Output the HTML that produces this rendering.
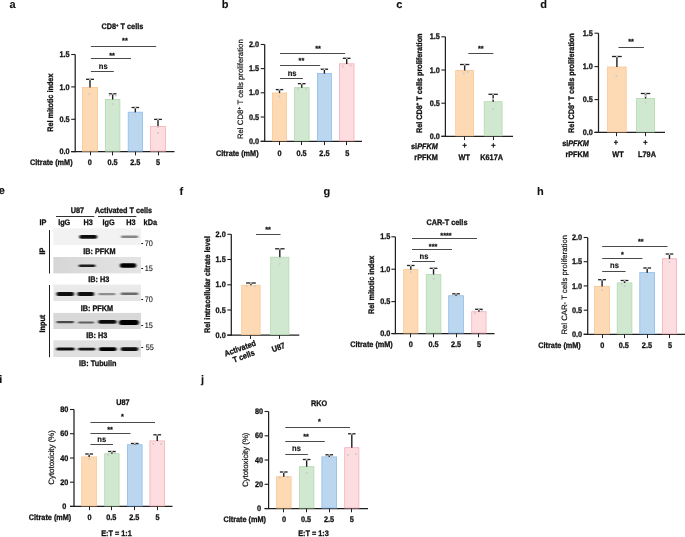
<!DOCTYPE html>
<html><head><meta charset="utf-8"><style>
html,body{margin:0;padding:0;background:#fff;}
svg{display:block;will-change:transform;}
text{text-rendering:geometricPrecision;font-family:"Liberation Sans", sans-serif;}
</style></head><body>
<svg width="685" height="537" viewBox="0 0 685 537">
<defs><filter id="bl" x="-20%" y="-150%" width="140%" height="400%"><feGaussianBlur stdDeviation="1.0 0.6"/></filter>
<linearGradient id="g2" x1="0" x2="1" y1="0" y2="0"><stop offset="0" stop-color="#d6d6d6"/><stop offset="0.5" stop-color="#dedede"/><stop offset="1" stop-color="#e4e4e4"/></linearGradient>
<linearGradient id="g3" x1="0" x2="0" y1="0" y2="1"><stop offset="0" stop-color="#ececec"/><stop offset="1" stop-color="#e2e2e2"/></linearGradient>
</defs>
<rect width="685" height="537" fill="#fff"/>
<text transform="translate(9.40 7.80) scale(1.0000 1)" text-anchor="start" font-size="11.00" font-weight="bold" fill="#111"  stroke="#111" stroke-width="0.1">a</text>
<text transform="translate(122.40 29.20) scale(0.9091 1)" text-anchor="middle" font-size="8.03" font-weight="bold" fill="#111"  stroke="#111" stroke-width="0.3">CD8<tspan font-size="4.6" dy="-2.6">+</tspan><tspan dy="2.6"> </tspan>T cells</text>
<line x1="75.20" y1="54.50" x2="75.20" y2="152.20" stroke="#1f1f1f" stroke-width="1.25"/>
<line x1="71.20" y1="151.60" x2="75.20" y2="151.60" stroke="#1f1f1f" stroke-width="1.1"/>
<text transform="translate(69.60 154.20) scale(0.9091 1)" text-anchor="end" font-size="8.03" font-weight="bold" fill="#111"  stroke="#111" stroke-width="0.3">0.0</text>
<line x1="71.20" y1="119.30" x2="75.20" y2="119.30" stroke="#1f1f1f" stroke-width="1.1"/>
<text transform="translate(69.60 121.90) scale(0.9091 1)" text-anchor="end" font-size="8.03" font-weight="bold" fill="#111"  stroke="#111" stroke-width="0.3">0.5</text>
<line x1="71.20" y1="86.90" x2="75.20" y2="86.90" stroke="#1f1f1f" stroke-width="1.1"/>
<text transform="translate(69.60 89.50) scale(0.9091 1)" text-anchor="end" font-size="8.03" font-weight="bold" fill="#111"  stroke="#111" stroke-width="0.3">1.0</text>
<line x1="71.20" y1="54.50" x2="75.20" y2="54.50" stroke="#1f1f1f" stroke-width="1.1"/>
<text transform="translate(69.60 57.10) scale(0.9091 1)" text-anchor="end" font-size="8.03" font-weight="bold" fill="#111"  stroke="#111" stroke-width="0.3">1.5</text>
<line x1="71.20" y1="151.60" x2="174.50" y2="151.60" stroke="#1f1f1f" stroke-width="1.25"/>
<rect x="82.40" y="87.40" width="15.20" height="63.70" fill="#FDDAB3" stroke="#F9C795" stroke-width="0.8" />
<line x1="90.00" y1="79.30" x2="90.00" y2="87.50" stroke="#1f1f1f" stroke-width="1.4"/>
<line x1="86.00" y1="79.30" x2="94.00" y2="79.30" stroke="#1f1f1f" stroke-width="1.3"/>
<line x1="90.50" y1="151.60" x2="90.50" y2="155.40" stroke="#1f1f1f" stroke-width="1.0"/>
<circle cx="90.00" cy="79.30" r="0.9" fill="#d4d4d4"/>
<circle cx="89.50" cy="94.00" r="1.0" fill="#cbcbcb"/>
<rect x="105.40" y="99.40" width="14.50" height="51.70" fill="#D1E8D0" stroke="#B3DAB0" stroke-width="0.8" />
<line x1="112.65" y1="93.80" x2="112.65" y2="99.50" stroke="#1f1f1f" stroke-width="1.4"/>
<line x1="108.83" y1="93.80" x2="116.48" y2="93.80" stroke="#1f1f1f" stroke-width="1.3"/>
<line x1="112.50" y1="151.60" x2="112.50" y2="155.40" stroke="#1f1f1f" stroke-width="1.0"/>
<circle cx="112.65" cy="93.80" r="0.9" fill="#d4d4d4"/>
<circle cx="109.65" cy="95.50" r="1.0" fill="#cbcbcb"/>
<circle cx="115.65" cy="95.50" r="1.0" fill="#cbcbcb"/>
<circle cx="112.65" cy="104.00" r="1.0" fill="#cbcbcb"/>
<rect x="128.20" y="112.20" width="14.30" height="38.90" fill="#BBD7F0" stroke="#8FBBEC" stroke-width="0.8" />
<line x1="135.35" y1="107.50" x2="135.35" y2="112.30" stroke="#1f1f1f" stroke-width="1.4"/>
<line x1="131.57" y1="107.50" x2="139.12" y2="107.50" stroke="#1f1f1f" stroke-width="1.3"/>
<line x1="135.50" y1="151.60" x2="135.50" y2="155.40" stroke="#1f1f1f" stroke-width="1.0"/>
<circle cx="135.35" cy="107.50" r="0.9" fill="#d4d4d4"/>
<circle cx="135.35" cy="115.00" r="1.0" fill="#cbcbcb"/>
<rect x="150.60" y="126.50" width="14.80" height="24.60" fill="#FDDDE0" stroke="#F6AEB6" stroke-width="0.8" />
<line x1="158.00" y1="119.40" x2="158.00" y2="126.60" stroke="#1f1f1f" stroke-width="1.4"/>
<line x1="154.10" y1="119.40" x2="161.90" y2="119.40" stroke="#1f1f1f" stroke-width="1.3"/>
<line x1="158.50" y1="151.60" x2="158.50" y2="155.40" stroke="#1f1f1f" stroke-width="1.0"/>
<circle cx="158.00" cy="119.40" r="0.9" fill="#d4d4d4"/>
<circle cx="158.00" cy="127.00" r="1.0" fill="#cbcbcb"/>
<circle cx="158.00" cy="133.00" r="1.0" fill="#cbcbcb"/>
<line x1="90.90" y1="46.50" x2="156.20" y2="46.50" stroke="#4a4a4a" stroke-width="1.0"/>
<text transform="translate(124.90 43.10) scale(1.0000 1)" text-anchor="middle" font-size="7.30" font-weight="bold" fill="#111"  stroke="#111" stroke-width="0.25">**</text>
<line x1="90.90" y1="58.50" x2="131.00" y2="58.50" stroke="#4a4a4a" stroke-width="1.0"/>
<text transform="translate(112.10 57.50) scale(1.0000 1)" text-anchor="middle" font-size="7.30" font-weight="bold" fill="#111"  stroke="#111" stroke-width="0.25">**</text>
<line x1="90.90" y1="71.50" x2="113.80" y2="71.50" stroke="#4a4a4a" stroke-width="1.0"/>
<text transform="translate(103.30 68.60) scale(0.9091 1)" text-anchor="middle" font-size="8.36" font-weight="bold" fill="#111"  stroke="#111" stroke-width="0.15">ns</text>
<text transform="translate(89.80 164.80) scale(0.9091 1)" text-anchor="middle" font-size="8.03" font-weight="bold" fill="#111"  stroke="#111" stroke-width="0.3">0</text>
<text transform="translate(112.60 164.80) scale(0.9091 1)" text-anchor="middle" font-size="8.03" font-weight="bold" fill="#111"  stroke="#111" stroke-width="0.3">0.5</text>
<text transform="translate(135.30 164.80) scale(0.9091 1)" text-anchor="middle" font-size="8.03" font-weight="bold" fill="#111"  stroke="#111" stroke-width="0.3">2.5</text>
<text transform="translate(158.00 164.80) scale(0.9091 1)" text-anchor="middle" font-size="8.03" font-weight="bold" fill="#111"  stroke="#111" stroke-width="0.3">5</text>
<text transform="translate(72.60 164.80) scale(0.9091 1)" text-anchor="end" font-size="8.03" font-weight="bold" fill="#111"  stroke="#111" stroke-width="0.3">Citrate (mM)</text>
<text transform="translate(52.60 102.70) rotate(-90) scale(0.9091 1)" text-anchor="middle" font-size="8.03" font-weight="bold" fill="#111"  stroke="#111" stroke-width="0.3">Rel mitotic index</text>
<text transform="translate(221.80 7.80) scale(1.0000 1)" text-anchor="start" font-size="11.00" font-weight="bold" fill="#111"  stroke="#111" stroke-width="0.1">b</text>
<line x1="264.70" y1="44.50" x2="264.70" y2="141.90" stroke="#1f1f1f" stroke-width="1.25"/>
<line x1="260.70" y1="141.30" x2="264.70" y2="141.30" stroke="#1f1f1f" stroke-width="1.1"/>
<text transform="translate(259.10 143.90) scale(0.9091 1)" text-anchor="end" font-size="8.03" font-weight="bold" fill="#111"  stroke="#111" stroke-width="0.3">0.0</text>
<line x1="260.70" y1="117.00" x2="264.70" y2="117.00" stroke="#1f1f1f" stroke-width="1.1"/>
<text transform="translate(259.10 119.60) scale(0.9091 1)" text-anchor="end" font-size="8.03" font-weight="bold" fill="#111"  stroke="#111" stroke-width="0.3">0.5</text>
<line x1="260.70" y1="92.80" x2="264.70" y2="92.80" stroke="#1f1f1f" stroke-width="1.1"/>
<text transform="translate(259.10 95.40) scale(0.9091 1)" text-anchor="end" font-size="8.03" font-weight="bold" fill="#111"  stroke="#111" stroke-width="0.3">1.0</text>
<line x1="260.70" y1="68.60" x2="264.70" y2="68.60" stroke="#1f1f1f" stroke-width="1.1"/>
<text transform="translate(259.10 71.20) scale(0.9091 1)" text-anchor="end" font-size="8.03" font-weight="bold" fill="#111"  stroke="#111" stroke-width="0.3">1.5</text>
<line x1="260.70" y1="44.50" x2="264.70" y2="44.50" stroke="#1f1f1f" stroke-width="1.1"/>
<text transform="translate(259.10 47.10) scale(0.9091 1)" text-anchor="end" font-size="8.03" font-weight="bold" fill="#111"  stroke="#111" stroke-width="0.3">2.0</text>
<line x1="260.70" y1="141.30" x2="362.00" y2="141.30" stroke="#1f1f1f" stroke-width="1.25"/>
<rect x="272.40" y="93.00" width="14.20" height="47.80" fill="#FDDAB3" stroke="#F9C795" stroke-width="0.8" />
<line x1="279.50" y1="89.60" x2="279.50" y2="93.10" stroke="#1f1f1f" stroke-width="1.4"/>
<line x1="275.75" y1="89.60" x2="283.25" y2="89.60" stroke="#1f1f1f" stroke-width="1.3"/>
<line x1="279.50" y1="141.30" x2="279.50" y2="145.10" stroke="#1f1f1f" stroke-width="1.0"/>
<circle cx="279.50" cy="89.60" r="0.9" fill="#d4d4d4"/>
<circle cx="279.50" cy="96.50" r="1.0" fill="#cbcbcb"/>
<rect x="294.40" y="87.60" width="14.70" height="53.20" fill="#D1E8D0" stroke="#B3DAB0" stroke-width="0.8" />
<line x1="301.75" y1="83.70" x2="301.75" y2="87.70" stroke="#1f1f1f" stroke-width="1.4"/>
<line x1="297.88" y1="83.70" x2="305.62" y2="83.70" stroke="#1f1f1f" stroke-width="1.3"/>
<line x1="301.50" y1="141.30" x2="301.50" y2="145.10" stroke="#1f1f1f" stroke-width="1.0"/>
<circle cx="301.75" cy="83.70" r="0.9" fill="#d4d4d4"/>
<circle cx="297.75" cy="89.00" r="1.0" fill="#cbcbcb"/>
<circle cx="305.75" cy="89.00" r="1.0" fill="#cbcbcb"/>
<rect x="317.40" y="73.50" width="14.00" height="67.30" fill="#BBD7F0" stroke="#8FBBEC" stroke-width="0.8" />
<line x1="324.40" y1="69.20" x2="324.40" y2="73.60" stroke="#1f1f1f" stroke-width="1.4"/>
<line x1="320.70" y1="69.20" x2="328.10" y2="69.20" stroke="#1f1f1f" stroke-width="1.3"/>
<line x1="324.50" y1="141.30" x2="324.50" y2="145.10" stroke="#1f1f1f" stroke-width="1.0"/>
<circle cx="324.40" cy="69.20" r="0.9" fill="#d4d4d4"/>
<circle cx="324.40" cy="76.00" r="1.0" fill="#cbcbcb"/>
<rect x="339.40" y="63.80" width="14.60" height="77.00" fill="#FDDDE0" stroke="#F6AEB6" stroke-width="0.8" />
<line x1="346.70" y1="58.30" x2="346.70" y2="63.90" stroke="#1f1f1f" stroke-width="1.4"/>
<line x1="342.85" y1="58.30" x2="350.55" y2="58.30" stroke="#1f1f1f" stroke-width="1.3"/>
<line x1="346.50" y1="141.30" x2="346.50" y2="145.10" stroke="#1f1f1f" stroke-width="1.0"/>
<circle cx="346.70" cy="58.30" r="0.9" fill="#d4d4d4"/>
<circle cx="342.70" cy="66.50" r="1.0" fill="#cbcbcb"/>
<circle cx="350.70" cy="65.50" r="1.0" fill="#cbcbcb"/>
<line x1="280.00" y1="53.50" x2="345.10" y2="53.50" stroke="#4a4a4a" stroke-width="1.0"/>
<text transform="translate(318.10 50.60) scale(1.0000 1)" text-anchor="middle" font-size="7.30" font-weight="bold" fill="#111"  stroke="#111" stroke-width="0.25">**</text>
<line x1="280.00" y1="65.50" x2="320.20" y2="65.50" stroke="#4a4a4a" stroke-width="1.0"/>
<text transform="translate(301.40 63.20) scale(1.0000 1)" text-anchor="middle" font-size="7.30" font-weight="bold" fill="#111"  stroke="#111" stroke-width="0.25">**</text>
<line x1="280.00" y1="78.50" x2="302.90" y2="78.50" stroke="#4a4a4a" stroke-width="1.0"/>
<text transform="translate(292.10 75.90) scale(0.9091 1)" text-anchor="middle" font-size="8.36" font-weight="bold" fill="#111"  stroke="#111" stroke-width="0.15">ns</text>
<text transform="translate(279.50 155.50) scale(0.9091 1)" text-anchor="middle" font-size="8.03" font-weight="bold" fill="#111"  stroke="#111" stroke-width="0.3">0</text>
<text transform="translate(301.50 155.50) scale(0.9091 1)" text-anchor="middle" font-size="8.03" font-weight="bold" fill="#111"  stroke="#111" stroke-width="0.3">0.5</text>
<text transform="translate(324.40 155.50) scale(0.9091 1)" text-anchor="middle" font-size="8.03" font-weight="bold" fill="#111"  stroke="#111" stroke-width="0.3">2.5</text>
<text transform="translate(347.30 155.50) scale(0.9091 1)" text-anchor="middle" font-size="8.03" font-weight="bold" fill="#111"  stroke="#111" stroke-width="0.3">5</text>
<text transform="translate(258.60 155.50) scale(0.9091 1)" text-anchor="end" font-size="8.03" font-weight="bold" fill="#111"  stroke="#111" stroke-width="0.3">Citrate (mM)</text>
<text transform="translate(243.40 89.20) rotate(-90) scale(1.0000 1)" text-anchor="middle" font-size="7.80" font-weight="normal" fill="#111"  stroke="#111" stroke-width="0.2">Rel CD8<tspan font-size="5.2" dy="-2.8">+</tspan><tspan dy="2.8"> </tspan>T cells proliferation</text>
<text transform="translate(396.20 7.80) scale(1.0000 1)" text-anchor="start" font-size="11.00" font-weight="bold" fill="#111"  stroke="#111" stroke-width="0.1">c</text>
<line x1="445.40" y1="36.80" x2="445.40" y2="136.90" stroke="#1f1f1f" stroke-width="1.25"/>
<line x1="441.40" y1="136.30" x2="445.40" y2="136.30" stroke="#1f1f1f" stroke-width="1.1"/>
<text transform="translate(439.80 138.90) scale(0.9091 1)" text-anchor="end" font-size="8.03" font-weight="bold" fill="#111"  stroke="#111" stroke-width="0.3">0.0</text>
<line x1="441.40" y1="103.20" x2="445.40" y2="103.20" stroke="#1f1f1f" stroke-width="1.1"/>
<text transform="translate(439.80 105.80) scale(0.9091 1)" text-anchor="end" font-size="8.03" font-weight="bold" fill="#111"  stroke="#111" stroke-width="0.3">0.5</text>
<line x1="441.40" y1="70.00" x2="445.40" y2="70.00" stroke="#1f1f1f" stroke-width="1.1"/>
<text transform="translate(439.80 72.60) scale(0.9091 1)" text-anchor="end" font-size="8.03" font-weight="bold" fill="#111"  stroke="#111" stroke-width="0.3">1.0</text>
<line x1="441.40" y1="36.80" x2="445.40" y2="36.80" stroke="#1f1f1f" stroke-width="1.1"/>
<text transform="translate(439.80 39.40) scale(0.9091 1)" text-anchor="end" font-size="8.03" font-weight="bold" fill="#111"  stroke="#111" stroke-width="0.3">1.5</text>
<line x1="441.40" y1="136.30" x2="513.00" y2="136.30" stroke="#1f1f1f" stroke-width="1.25"/>
<rect x="455.70" y="70.40" width="17.90" height="65.40" fill="#FDDAB3" stroke="#F9C795" stroke-width="0.8" />
<line x1="464.65" y1="64.50" x2="464.65" y2="70.50" stroke="#1f1f1f" stroke-width="1.4"/>
<line x1="459.97" y1="64.50" x2="469.32" y2="64.50" stroke="#1f1f1f" stroke-width="1.3"/>
<line x1="464.50" y1="136.30" x2="464.50" y2="140.10" stroke="#1f1f1f" stroke-width="1.0"/>
<circle cx="464.65" cy="64.50" r="0.9" fill="#d4d4d4"/>
<circle cx="463.65" cy="73.50" r="1.0" fill="#cbcbcb"/>
<circle cx="467.65" cy="72.00" r="1.0" fill="#cbcbcb"/>
<rect x="484.20" y="101.70" width="17.90" height="34.10" fill="#D1E8D0" stroke="#B3DAB0" stroke-width="0.8" />
<line x1="493.15" y1="94.30" x2="493.15" y2="101.80" stroke="#1f1f1f" stroke-width="1.4"/>
<line x1="488.47" y1="94.30" x2="497.82" y2="94.30" stroke="#1f1f1f" stroke-width="1.3"/>
<line x1="493.50" y1="136.30" x2="493.50" y2="140.10" stroke="#1f1f1f" stroke-width="1.0"/>
<circle cx="493.15" cy="94.30" r="0.9" fill="#d4d4d4"/>
<circle cx="493.15" cy="99.00" r="1.0" fill="#cbcbcb"/>
<circle cx="493.15" cy="109.00" r="1.0" fill="#cbcbcb"/>
<line x1="468.30" y1="53.50" x2="493.30" y2="53.50" stroke="#4a4a4a" stroke-width="1.0"/>
<text transform="translate(480.80 50.50) scale(1.0000 1)" text-anchor="middle" font-size="7.30" font-weight="bold" fill="#111"  stroke="#111" stroke-width="0.25">**</text>
<text transform="translate(421.80 83.30) rotate(-90) scale(0.9091 1)" text-anchor="middle" font-size="8.03" font-weight="bold" fill="#111"  stroke="#111" stroke-width="0.3">Rel CD8<tspan font-size="4.6" dy="-2.6">+</tspan><tspan dy="2.6"> </tspan>T cells proliferation</text>
<text transform="translate(464.60 147.80) scale(0.9091 1)" text-anchor="middle" font-size="8.03" font-weight="bold" fill="#111"  stroke="#111" stroke-width="0.3">+</text>
<text transform="translate(493.30 147.80) scale(0.9091 1)" text-anchor="middle" font-size="8.03" font-weight="bold" fill="#111"  stroke="#111" stroke-width="0.3">+</text>
<text transform="translate(437.80 148.80) scale(0.9091 1)" text-anchor="end" font-size="8.03" font-weight="bold" fill="#111"  stroke="#111" stroke-width="0.3">si<tspan font-style="italic">PFKM</tspan></text>
<text transform="translate(437.80 160.10) scale(0.9091 1)" text-anchor="end" font-size="8.03" font-weight="bold" fill="#111"  stroke="#111" stroke-width="0.3">rPFKM</text>
<text transform="translate(464.20 160.10) scale(0.9091 1)" text-anchor="middle" font-size="8.03" font-weight="bold" fill="#111"  stroke="#111" stroke-width="0.3">WT</text>
<text transform="translate(491.60 160.10) scale(0.9091 1)" text-anchor="middle" font-size="8.03" font-weight="bold" fill="#111"  stroke="#111" stroke-width="0.3">K617A</text>
<text transform="translate(540.20 7.80) scale(1.0000 1)" text-anchor="start" font-size="11.00" font-weight="bold" fill="#111"  stroke="#111" stroke-width="0.1">d</text>
<line x1="598.50" y1="33.20" x2="598.50" y2="133.00" stroke="#1f1f1f" stroke-width="1.25"/>
<line x1="594.50" y1="132.40" x2="598.50" y2="132.40" stroke="#1f1f1f" stroke-width="1.1"/>
<text transform="translate(592.90 135.00) scale(0.9091 1)" text-anchor="end" font-size="8.03" font-weight="bold" fill="#111"  stroke="#111" stroke-width="0.3">0.0</text>
<line x1="594.50" y1="99.60" x2="598.50" y2="99.60" stroke="#1f1f1f" stroke-width="1.1"/>
<text transform="translate(592.90 102.20) scale(0.9091 1)" text-anchor="end" font-size="8.03" font-weight="bold" fill="#111"  stroke="#111" stroke-width="0.3">0.5</text>
<line x1="594.50" y1="66.60" x2="598.50" y2="66.60" stroke="#1f1f1f" stroke-width="1.1"/>
<text transform="translate(592.90 69.20) scale(0.9091 1)" text-anchor="end" font-size="8.03" font-weight="bold" fill="#111"  stroke="#111" stroke-width="0.3">1.0</text>
<line x1="594.50" y1="33.20" x2="598.50" y2="33.20" stroke="#1f1f1f" stroke-width="1.1"/>
<text transform="translate(592.90 35.80) scale(0.9091 1)" text-anchor="end" font-size="8.03" font-weight="bold" fill="#111"  stroke="#111" stroke-width="0.3">1.5</text>
<line x1="594.50" y1="132.40" x2="665.00" y2="132.40" stroke="#1f1f1f" stroke-width="1.25"/>
<rect x="607.60" y="67.00" width="18.60" height="64.90" fill="#FDDAB3" stroke="#F9C795" stroke-width="0.8" />
<line x1="616.90" y1="56.50" x2="616.90" y2="67.10" stroke="#1f1f1f" stroke-width="1.4"/>
<line x1="612.05" y1="56.50" x2="621.75" y2="56.50" stroke="#1f1f1f" stroke-width="1.3"/>
<line x1="616.50" y1="132.40" x2="616.50" y2="136.20" stroke="#1f1f1f" stroke-width="1.0"/>
<circle cx="616.90" cy="56.50" r="0.9" fill="#d4d4d4"/>
<circle cx="616.40" cy="76.00" r="1.0" fill="#cbcbcb"/>
<rect x="636.50" y="98.40" width="18.10" height="33.50" fill="#D1E8D0" stroke="#B3DAB0" stroke-width="0.8" />
<line x1="645.55" y1="93.50" x2="645.55" y2="98.50" stroke="#1f1f1f" stroke-width="1.4"/>
<line x1="640.82" y1="93.50" x2="650.27" y2="93.50" stroke="#1f1f1f" stroke-width="1.3"/>
<line x1="645.50" y1="132.40" x2="645.50" y2="136.20" stroke="#1f1f1f" stroke-width="1.0"/>
<circle cx="645.55" cy="93.50" r="0.9" fill="#d4d4d4"/>
<circle cx="645.55" cy="96.00" r="1.0" fill="#cbcbcb"/>
<circle cx="645.55" cy="102.50" r="1.0" fill="#cbcbcb"/>
<line x1="618.50" y1="47.50" x2="643.90" y2="47.50" stroke="#4a4a4a" stroke-width="1.0"/>
<text transform="translate(631.00 43.90) scale(1.0000 1)" text-anchor="middle" font-size="7.30" font-weight="bold" fill="#111"  stroke="#111" stroke-width="0.25">**</text>
<text transform="translate(574.00 83.10) rotate(-90) scale(0.9091 1)" text-anchor="middle" font-size="8.03" font-weight="bold" fill="#111"  stroke="#111" stroke-width="0.3">Rel CD8<tspan font-size="4.6" dy="-2.6">+</tspan><tspan dy="2.6"> </tspan>T cells proliferation</text>
<text transform="translate(616.00 144.70) scale(0.9091 1)" text-anchor="middle" font-size="8.03" font-weight="bold" fill="#111"  stroke="#111" stroke-width="0.3">+</text>
<text transform="translate(645.40 144.70) scale(0.9091 1)" text-anchor="middle" font-size="8.03" font-weight="bold" fill="#111"  stroke="#111" stroke-width="0.3">+</text>
<text transform="translate(588.90 145.90) scale(0.9091 1)" text-anchor="end" font-size="8.03" font-weight="bold" fill="#111"  stroke="#111" stroke-width="0.3">si<tspan font-style="italic">PFKM</tspan></text>
<text transform="translate(588.90 157.20) scale(0.9091 1)" text-anchor="end" font-size="8.03" font-weight="bold" fill="#111"  stroke="#111" stroke-width="0.3">rPFKM</text>
<text transform="translate(618.00 157.20) scale(0.9091 1)" text-anchor="middle" font-size="8.03" font-weight="bold" fill="#111"  stroke="#111" stroke-width="0.3">WT</text>
<text transform="translate(647.00 157.20) scale(0.9091 1)" text-anchor="middle" font-size="8.03" font-weight="bold" fill="#111"  stroke="#111" stroke-width="0.3">L79A</text>
<text transform="translate(179.60 194.50) scale(1.0000 1)" text-anchor="start" font-size="11.00" font-weight="bold" fill="#111"  stroke="#111" stroke-width="0.1">f</text>
<line x1="231.30" y1="234.30" x2="231.30" y2="335.70" stroke="#1f1f1f" stroke-width="1.25"/>
<line x1="227.30" y1="335.10" x2="231.30" y2="335.10" stroke="#1f1f1f" stroke-width="1.1"/>
<text transform="translate(225.70 337.70) scale(0.9091 1)" text-anchor="end" font-size="8.03" font-weight="bold" fill="#111"  stroke="#111" stroke-width="0.3">0.0</text>
<line x1="227.30" y1="310.00" x2="231.30" y2="310.00" stroke="#1f1f1f" stroke-width="1.1"/>
<text transform="translate(225.70 312.60) scale(0.9091 1)" text-anchor="end" font-size="8.03" font-weight="bold" fill="#111"  stroke="#111" stroke-width="0.3">0.5</text>
<line x1="227.30" y1="284.80" x2="231.30" y2="284.80" stroke="#1f1f1f" stroke-width="1.1"/>
<text transform="translate(225.70 287.40) scale(0.9091 1)" text-anchor="end" font-size="8.03" font-weight="bold" fill="#111"  stroke="#111" stroke-width="0.3">1.0</text>
<line x1="227.30" y1="259.50" x2="231.30" y2="259.50" stroke="#1f1f1f" stroke-width="1.1"/>
<text transform="translate(225.70 262.10) scale(0.9091 1)" text-anchor="end" font-size="8.03" font-weight="bold" fill="#111"  stroke="#111" stroke-width="0.3">1.5</text>
<line x1="227.30" y1="234.30" x2="231.30" y2="234.30" stroke="#1f1f1f" stroke-width="1.1"/>
<text transform="translate(225.70 236.90) scale(0.9091 1)" text-anchor="end" font-size="8.03" font-weight="bold" fill="#111"  stroke="#111" stroke-width="0.3">2.0</text>
<line x1="227.30" y1="335.10" x2="299.30" y2="335.10" stroke="#1f1f1f" stroke-width="1.25"/>
<rect x="241.70" y="285.20" width="18.40" height="49.40" fill="#FDDAB3" stroke="#F9C795" stroke-width="0.8" />
<line x1="250.90" y1="283.00" x2="250.90" y2="285.30" stroke="#1f1f1f" stroke-width="1.4"/>
<line x1="246.10" y1="283.00" x2="255.70" y2="283.00" stroke="#1f1f1f" stroke-width="1.3"/>
<line x1="250.50" y1="335.10" x2="250.50" y2="338.90" stroke="#1f1f1f" stroke-width="1.0"/>
<circle cx="250.90" cy="283.00" r="0.9" fill="#d4d4d4"/>
<circle cx="246.90" cy="286.00" r="1.0" fill="#cbcbcb"/>
<circle cx="254.90" cy="286.00" r="1.0" fill="#cbcbcb"/>
<rect x="270.70" y="257.20" width="18.20" height="77.40" fill="#D1E8D0" stroke="#B3DAB0" stroke-width="0.8" />
<line x1="279.80" y1="248.80" x2="279.80" y2="257.30" stroke="#1f1f1f" stroke-width="1.4"/>
<line x1="275.05" y1="248.80" x2="284.55" y2="248.80" stroke="#1f1f1f" stroke-width="1.3"/>
<line x1="279.50" y1="335.10" x2="279.50" y2="338.90" stroke="#1f1f1f" stroke-width="1.0"/>
<circle cx="279.80" cy="248.80" r="0.9" fill="#d4d4d4"/>
<circle cx="279.80" cy="258.00" r="1.0" fill="#cbcbcb"/>
<circle cx="279.80" cy="264.00" r="1.0" fill="#cbcbcb"/>
<line x1="256.00" y1="234.50" x2="280.50" y2="234.50" stroke="#4a4a4a" stroke-width="1.0"/>
<text transform="translate(268.00 231.60) scale(1.0000 1)" text-anchor="middle" font-size="7.30" font-weight="bold" fill="#111"  stroke="#111" stroke-width="0.25">**</text>
<text transform="translate(209.80 284.60) rotate(-90) scale(0.9091 1)" text-anchor="middle" font-size="8.03" font-weight="bold" fill="#111"  stroke="#111" stroke-width="0.3">Rel intracellular citrate level</text>
<text transform="translate(241.00 350.90) rotate(-20) scale(0.9091 1)" text-anchor="middle" font-size="8.03" font-weight="bold" fill="#111"  stroke="#111" stroke-width="0.3">Activated</text>
<text transform="translate(244.60 358.80) rotate(-20) scale(0.9091 1)" text-anchor="middle" font-size="8.03" font-weight="bold" fill="#111"  stroke="#111" stroke-width="0.3">T cells</text>
<text transform="translate(279.40 349.90) rotate(-20) scale(0.9091 1)" text-anchor="middle" font-size="8.03" font-weight="bold" fill="#111"  stroke="#111" stroke-width="0.3">U87</text>
<text transform="translate(323.60 194.50) scale(1.0000 1)" text-anchor="start" font-size="11.00" font-weight="bold" fill="#111"  stroke="#111" stroke-width="0.1">g</text>
<text transform="translate(447.00 225.10) scale(0.9091 1)" text-anchor="middle" font-size="8.03" font-weight="bold" fill="#111"  stroke="#111" stroke-width="0.3">CAR-T cells</text>
<line x1="395.40" y1="236.80" x2="395.40" y2="334.10" stroke="#1f1f1f" stroke-width="1.25"/>
<line x1="391.40" y1="333.50" x2="395.40" y2="333.50" stroke="#1f1f1f" stroke-width="1.1"/>
<text transform="translate(390.40 336.10) scale(0.9091 1)" text-anchor="end" font-size="8.03" font-weight="bold" fill="#111"  stroke="#111" stroke-width="0.3">0.0</text>
<line x1="391.40" y1="301.60" x2="395.40" y2="301.60" stroke="#1f1f1f" stroke-width="1.1"/>
<text transform="translate(390.40 304.20) scale(0.9091 1)" text-anchor="end" font-size="8.03" font-weight="bold" fill="#111"  stroke="#111" stroke-width="0.3">0.5</text>
<line x1="391.40" y1="269.20" x2="395.40" y2="269.20" stroke="#1f1f1f" stroke-width="1.1"/>
<text transform="translate(390.40 271.80) scale(0.9091 1)" text-anchor="end" font-size="8.03" font-weight="bold" fill="#111"  stroke="#111" stroke-width="0.3">1.0</text>
<line x1="391.40" y1="236.80" x2="395.40" y2="236.80" stroke="#1f1f1f" stroke-width="1.1"/>
<text transform="translate(390.40 239.40) scale(0.9091 1)" text-anchor="end" font-size="8.03" font-weight="bold" fill="#111"  stroke="#111" stroke-width="0.3">1.5</text>
<line x1="391.40" y1="333.50" x2="494.50" y2="333.50" stroke="#1f1f1f" stroke-width="1.25"/>
<rect x="403.70" y="269.60" width="14.20" height="63.40" fill="#FDDAB3" stroke="#F9C795" stroke-width="0.8" />
<line x1="410.80" y1="265.50" x2="410.80" y2="269.70" stroke="#1f1f1f" stroke-width="1.4"/>
<line x1="407.05" y1="265.50" x2="414.55" y2="265.50" stroke="#1f1f1f" stroke-width="1.3"/>
<line x1="410.50" y1="333.50" x2="410.50" y2="337.30" stroke="#1f1f1f" stroke-width="1.0"/>
<circle cx="410.80" cy="265.50" r="0.9" fill="#d4d4d4"/>
<circle cx="410.80" cy="272.00" r="1.0" fill="#cbcbcb"/>
<rect x="426.20" y="274.40" width="14.70" height="58.60" fill="#D1E8D0" stroke="#B3DAB0" stroke-width="0.8" />
<line x1="433.55" y1="268.30" x2="433.55" y2="274.50" stroke="#1f1f1f" stroke-width="1.4"/>
<line x1="429.68" y1="268.30" x2="437.43" y2="268.30" stroke="#1f1f1f" stroke-width="1.3"/>
<line x1="433.50" y1="333.50" x2="433.50" y2="337.30" stroke="#1f1f1f" stroke-width="1.0"/>
<circle cx="433.55" cy="268.30" r="0.9" fill="#d4d4d4"/>
<circle cx="433.55" cy="279.00" r="1.0" fill="#cbcbcb"/>
<rect x="448.70" y="295.70" width="14.70" height="37.30" fill="#BBD7F0" stroke="#8FBBEC" stroke-width="0.8" />
<line x1="456.05" y1="293.80" x2="456.05" y2="295.80" stroke="#1f1f1f" stroke-width="1.4"/>
<line x1="452.18" y1="293.80" x2="459.93" y2="293.80" stroke="#1f1f1f" stroke-width="1.3"/>
<line x1="456.50" y1="333.50" x2="456.50" y2="337.30" stroke="#1f1f1f" stroke-width="1.0"/>
<circle cx="456.05" cy="293.80" r="0.9" fill="#d4d4d4"/>
<circle cx="453.05" cy="296.00" r="1.0" fill="#cbcbcb"/>
<circle cx="459.05" cy="296.00" r="1.0" fill="#cbcbcb"/>
<rect x="471.70" y="311.70" width="14.40" height="21.30" fill="#FDDDE0" stroke="#F6AEB6" stroke-width="0.8" />
<line x1="478.90" y1="309.30" x2="478.90" y2="311.80" stroke="#1f1f1f" stroke-width="1.4"/>
<line x1="475.10" y1="309.30" x2="482.70" y2="309.30" stroke="#1f1f1f" stroke-width="1.3"/>
<line x1="478.50" y1="333.50" x2="478.50" y2="337.30" stroke="#1f1f1f" stroke-width="1.0"/>
<circle cx="478.90" cy="309.30" r="0.9" fill="#d4d4d4"/>
<circle cx="474.90" cy="313.00" r="1.0" fill="#cbcbcb"/>
<circle cx="481.90" cy="311.00" r="1.0" fill="#cbcbcb"/>
<line x1="412.00" y1="238.50" x2="477.00" y2="238.50" stroke="#4a4a4a" stroke-width="1.0"/>
<text transform="translate(446.00 238.00) scale(1.0000 1)" text-anchor="middle" font-size="7.30" font-weight="bold" fill="#111"  stroke="#111" stroke-width="0.25">****</text>
<line x1="412.00" y1="249.50" x2="452.00" y2="249.50" stroke="#4a4a4a" stroke-width="1.0"/>
<text transform="translate(433.10 249.10) scale(1.0000 1)" text-anchor="middle" font-size="7.30" font-weight="bold" fill="#111"  stroke="#111" stroke-width="0.25">***</text>
<line x1="412.00" y1="261.50" x2="435.00" y2="261.50" stroke="#4a4a4a" stroke-width="1.0"/>
<text transform="translate(424.00 258.80) scale(0.9091 1)" text-anchor="middle" font-size="8.36" font-weight="bold" fill="#111"  stroke="#111" stroke-width="0.15">ns</text>
<text transform="translate(410.80 347.10) scale(0.9091 1)" text-anchor="middle" font-size="8.03" font-weight="bold" fill="#111"  stroke="#111" stroke-width="0.3">0</text>
<text transform="translate(433.50 347.10) scale(0.9091 1)" text-anchor="middle" font-size="8.03" font-weight="bold" fill="#111"  stroke="#111" stroke-width="0.3">0.5</text>
<text transform="translate(456.00 347.10) scale(0.9091 1)" text-anchor="middle" font-size="8.03" font-weight="bold" fill="#111"  stroke="#111" stroke-width="0.3">2.5</text>
<text transform="translate(479.00 347.10) scale(0.9091 1)" text-anchor="middle" font-size="8.03" font-weight="bold" fill="#111"  stroke="#111" stroke-width="0.3">5</text>
<text transform="translate(392.80 347.10) scale(0.9091 1)" text-anchor="end" font-size="8.03" font-weight="bold" fill="#111"  stroke="#111" stroke-width="0.3">Citrate (mM)</text>
<text transform="translate(373.50 284.80) rotate(-90) scale(0.9091 1)" text-anchor="middle" font-size="8.03" font-weight="bold" fill="#111"  stroke="#111" stroke-width="0.3">Rel mitotic index</text>
<text transform="translate(536.90 194.50) scale(1.0000 1)" text-anchor="start" font-size="11.00" font-weight="bold" fill="#111"  stroke="#111" stroke-width="0.1">h</text>
<line x1="587.70" y1="237.50" x2="587.70" y2="334.90" stroke="#1f1f1f" stroke-width="1.25"/>
<line x1="583.70" y1="334.30" x2="587.70" y2="334.30" stroke="#1f1f1f" stroke-width="1.1"/>
<text transform="translate(582.10 336.90) scale(0.9091 1)" text-anchor="end" font-size="8.03" font-weight="bold" fill="#111"  stroke="#111" stroke-width="0.3">0.0</text>
<line x1="583.70" y1="310.20" x2="587.70" y2="310.20" stroke="#1f1f1f" stroke-width="1.1"/>
<text transform="translate(582.10 312.80) scale(0.9091 1)" text-anchor="end" font-size="8.03" font-weight="bold" fill="#111"  stroke="#111" stroke-width="0.3">0.5</text>
<line x1="583.70" y1="285.90" x2="587.70" y2="285.90" stroke="#1f1f1f" stroke-width="1.1"/>
<text transform="translate(582.10 288.50) scale(0.9091 1)" text-anchor="end" font-size="8.03" font-weight="bold" fill="#111"  stroke="#111" stroke-width="0.3">1.0</text>
<line x1="583.70" y1="261.70" x2="587.70" y2="261.70" stroke="#1f1f1f" stroke-width="1.1"/>
<text transform="translate(582.10 264.30) scale(0.9091 1)" text-anchor="end" font-size="8.03" font-weight="bold" fill="#111"  stroke="#111" stroke-width="0.3">1.5</text>
<line x1="583.70" y1="237.50" x2="587.70" y2="237.50" stroke="#1f1f1f" stroke-width="1.1"/>
<text transform="translate(582.10 240.10) scale(0.9091 1)" text-anchor="end" font-size="8.03" font-weight="bold" fill="#111"  stroke="#111" stroke-width="0.3">2.0</text>
<line x1="583.70" y1="334.30" x2="685.00" y2="334.30" stroke="#1f1f1f" stroke-width="1.25"/>
<rect x="594.60" y="286.30" width="15.00" height="47.50" fill="#FDDAB3" stroke="#F9C795" stroke-width="0.8" />
<line x1="602.10" y1="279.70" x2="602.10" y2="286.40" stroke="#1f1f1f" stroke-width="1.4"/>
<line x1="598.15" y1="279.70" x2="606.05" y2="279.70" stroke="#1f1f1f" stroke-width="1.3"/>
<line x1="602.50" y1="334.30" x2="602.50" y2="338.10" stroke="#1f1f1f" stroke-width="1.0"/>
<circle cx="602.10" cy="279.70" r="0.9" fill="#d4d4d4"/>
<circle cx="602.10" cy="290.00" r="1.0" fill="#cbcbcb"/>
<rect x="617.20" y="282.90" width="14.70" height="50.90" fill="#D1E8D0" stroke="#B3DAB0" stroke-width="0.8" />
<line x1="624.55" y1="280.50" x2="624.55" y2="283.00" stroke="#1f1f1f" stroke-width="1.4"/>
<line x1="620.67" y1="280.50" x2="628.42" y2="280.50" stroke="#1f1f1f" stroke-width="1.3"/>
<line x1="624.50" y1="334.30" x2="624.50" y2="338.10" stroke="#1f1f1f" stroke-width="1.0"/>
<circle cx="624.55" cy="280.50" r="0.9" fill="#d4d4d4"/>
<circle cx="621.55" cy="284.00" r="1.0" fill="#cbcbcb"/>
<circle cx="624.55" cy="286.00" r="1.0" fill="#cbcbcb"/>
<rect x="639.80" y="272.60" width="14.80" height="61.20" fill="#BBD7F0" stroke="#8FBBEC" stroke-width="0.8" />
<line x1="647.20" y1="268.00" x2="647.20" y2="272.70" stroke="#1f1f1f" stroke-width="1.4"/>
<line x1="643.30" y1="268.00" x2="651.10" y2="268.00" stroke="#1f1f1f" stroke-width="1.3"/>
<line x1="647.50" y1="334.30" x2="647.50" y2="338.10" stroke="#1f1f1f" stroke-width="1.0"/>
<circle cx="647.20" cy="268.00" r="0.9" fill="#d4d4d4"/>
<circle cx="647.20" cy="276.00" r="1.0" fill="#cbcbcb"/>
<rect x="662.40" y="258.80" width="14.20" height="75.00" fill="#FDDDE0" stroke="#F6AEB6" stroke-width="0.8" />
<line x1="669.50" y1="254.00" x2="669.50" y2="258.90" stroke="#1f1f1f" stroke-width="1.4"/>
<line x1="665.75" y1="254.00" x2="673.25" y2="254.00" stroke="#1f1f1f" stroke-width="1.3"/>
<line x1="669.50" y1="334.30" x2="669.50" y2="338.10" stroke="#1f1f1f" stroke-width="1.0"/>
<circle cx="669.50" cy="254.00" r="0.9" fill="#d4d4d4"/>
<circle cx="669.50" cy="262.00" r="1.0" fill="#cbcbcb"/>
<line x1="602.20" y1="246.50" x2="667.50" y2="246.50" stroke="#4a4a4a" stroke-width="1.0"/>
<text transform="translate(640.80 243.80) scale(1.0000 1)" text-anchor="middle" font-size="7.30" font-weight="bold" fill="#111"  stroke="#111" stroke-width="0.25">**</text>
<line x1="602.20" y1="258.50" x2="642.40" y2="258.50" stroke="#4a4a4a" stroke-width="1.0"/>
<text transform="translate(622.40 256.70) scale(1.0000 1)" text-anchor="middle" font-size="7.30" font-weight="bold" fill="#111"  stroke="#111" stroke-width="0.25">*</text>
<line x1="602.20" y1="271.50" x2="625.60" y2="271.50" stroke="#4a4a4a" stroke-width="1.0"/>
<text transform="translate(614.50 268.40) scale(0.9091 1)" text-anchor="middle" font-size="8.36" font-weight="bold" fill="#111"  stroke="#111" stroke-width="0.15">ns</text>
<text transform="translate(602.20 348.00) scale(0.9091 1)" text-anchor="middle" font-size="8.03" font-weight="bold" fill="#111"  stroke="#111" stroke-width="0.3">0</text>
<text transform="translate(623.80 348.00) scale(0.9091 1)" text-anchor="middle" font-size="8.03" font-weight="bold" fill="#111"  stroke="#111" stroke-width="0.3">0.5</text>
<text transform="translate(646.90 348.00) scale(0.9091 1)" text-anchor="middle" font-size="8.03" font-weight="bold" fill="#111"  stroke="#111" stroke-width="0.3">2.5</text>
<text transform="translate(670.00 348.00) scale(0.9091 1)" text-anchor="middle" font-size="8.03" font-weight="bold" fill="#111"  stroke="#111" stroke-width="0.3">5</text>
<text transform="translate(580.80 348.00) scale(0.9091 1)" text-anchor="end" font-size="8.03" font-weight="bold" fill="#111"  stroke="#111" stroke-width="0.3">Citrate (mM)</text>
<text transform="translate(566.80 284.80) rotate(-90) scale(1.0000 1)" text-anchor="middle" font-size="7.75" font-weight="normal" fill="#111"  stroke="#111" stroke-width="0.2">Rel CAR- T cells proliferation</text>
<text transform="translate(-0.80 383.20) scale(1.0000 1)" text-anchor="start" font-size="11.00" font-weight="bold" fill="#111"  stroke="#111" stroke-width="0.1">i</text>
<text transform="translate(123.00 405.10) scale(0.9091 1)" text-anchor="middle" font-size="8.03" font-weight="bold" fill="#111"  stroke="#111" stroke-width="0.3">U87</text>
<line x1="74.00" y1="409.50" x2="74.00" y2="507.00" stroke="#1f1f1f" stroke-width="1.25"/>
<line x1="70.00" y1="506.40" x2="74.00" y2="506.40" stroke="#1f1f1f" stroke-width="1.1"/>
<text transform="translate(66.40 509.00) scale(0.9091 1)" text-anchor="end" font-size="8.03" font-weight="bold" fill="#111"  stroke="#111" stroke-width="0.3">0</text>
<line x1="70.00" y1="482.20" x2="74.00" y2="482.20" stroke="#1f1f1f" stroke-width="1.1"/>
<text transform="translate(68.40 484.80) scale(0.9091 1)" text-anchor="end" font-size="8.03" font-weight="bold" fill="#111"  stroke="#111" stroke-width="0.3">20</text>
<line x1="70.00" y1="458.00" x2="74.00" y2="458.00" stroke="#1f1f1f" stroke-width="1.1"/>
<text transform="translate(68.40 460.60) scale(0.9091 1)" text-anchor="end" font-size="8.03" font-weight="bold" fill="#111"  stroke="#111" stroke-width="0.3">40</text>
<line x1="70.00" y1="433.70" x2="74.00" y2="433.70" stroke="#1f1f1f" stroke-width="1.1"/>
<text transform="translate(68.40 436.30) scale(0.9091 1)" text-anchor="end" font-size="8.03" font-weight="bold" fill="#111"  stroke="#111" stroke-width="0.3">60</text>
<line x1="70.00" y1="409.50" x2="74.00" y2="409.50" stroke="#1f1f1f" stroke-width="1.1"/>
<text transform="translate(68.40 412.10) scale(0.9091 1)" text-anchor="end" font-size="8.03" font-weight="bold" fill="#111"  stroke="#111" stroke-width="0.3">80</text>
<line x1="70.00" y1="506.40" x2="172.50" y2="506.40" stroke="#1f1f1f" stroke-width="1.25"/>
<rect x="81.70" y="456.90" width="14.90" height="49.00" fill="#FDDAB3" stroke="#F9C795" stroke-width="0.8" />
<line x1="89.15" y1="454.00" x2="89.15" y2="457.00" stroke="#1f1f1f" stroke-width="1.4"/>
<line x1="85.23" y1="454.00" x2="93.08" y2="454.00" stroke="#1f1f1f" stroke-width="1.3"/>
<line x1="89.50" y1="506.40" x2="89.50" y2="510.20" stroke="#1f1f1f" stroke-width="1.0"/>
<circle cx="89.15" cy="454.00" r="0.9" fill="#d4d4d4"/>
<circle cx="89.15" cy="459.00" r="1.0" fill="#cbcbcb"/>
<rect x="104.70" y="453.70" width="14.40" height="52.20" fill="#D1E8D0" stroke="#B3DAB0" stroke-width="0.8" />
<line x1="111.90" y1="451.50" x2="111.90" y2="453.80" stroke="#1f1f1f" stroke-width="1.4"/>
<line x1="108.10" y1="451.50" x2="115.70" y2="451.50" stroke="#1f1f1f" stroke-width="1.3"/>
<line x1="111.50" y1="506.40" x2="111.50" y2="510.20" stroke="#1f1f1f" stroke-width="1.0"/>
<circle cx="111.90" cy="451.50" r="0.9" fill="#d4d4d4"/>
<circle cx="107.90" cy="455.00" r="1.0" fill="#cbcbcb"/>
<circle cx="114.90" cy="453.00" r="1.0" fill="#cbcbcb"/>
<rect x="127.40" y="444.70" width="14.70" height="61.20" fill="#BBD7F0" stroke="#8FBBEC" stroke-width="0.8" />
<line x1="134.75" y1="443.50" x2="134.75" y2="444.80" stroke="#1f1f1f" stroke-width="1.4"/>
<line x1="130.88" y1="443.50" x2="138.62" y2="443.50" stroke="#1f1f1f" stroke-width="1.3"/>
<line x1="134.50" y1="506.40" x2="134.50" y2="510.20" stroke="#1f1f1f" stroke-width="1.0"/>
<circle cx="134.75" cy="443.50" r="0.9" fill="#d4d4d4"/>
<circle cx="131.75" cy="445.00" r="1.0" fill="#cbcbcb"/>
<rect x="149.90" y="440.90" width="14.70" height="65.00" fill="#FDDDE0" stroke="#F6AEB6" stroke-width="0.8" />
<line x1="157.25" y1="434.80" x2="157.25" y2="441.00" stroke="#1f1f1f" stroke-width="1.4"/>
<line x1="153.38" y1="434.80" x2="161.12" y2="434.80" stroke="#1f1f1f" stroke-width="1.3"/>
<line x1="157.50" y1="506.40" x2="157.50" y2="510.20" stroke="#1f1f1f" stroke-width="1.0"/>
<circle cx="157.25" cy="434.80" r="0.9" fill="#d4d4d4"/>
<circle cx="153.25" cy="444.00" r="1.0" fill="#cbcbcb"/>
<circle cx="161.25" cy="444.00" r="1.0" fill="#cbcbcb"/>
<line x1="90.50" y1="422.50" x2="155.00" y2="422.50" stroke="#4a4a4a" stroke-width="1.0"/>
<text transform="translate(122.50 419.00) scale(1.0000 1)" text-anchor="middle" font-size="7.30" font-weight="bold" fill="#111"  stroke="#111" stroke-width="0.25">*</text>
<line x1="90.50" y1="433.50" x2="130.50" y2="433.50" stroke="#4a4a4a" stroke-width="1.0"/>
<text transform="translate(110.00 432.30) scale(1.0000 1)" text-anchor="middle" font-size="7.30" font-weight="bold" fill="#111"  stroke="#111" stroke-width="0.25">**</text>
<line x1="90.50" y1="444.50" x2="113.00" y2="444.50" stroke="#4a4a4a" stroke-width="1.0"/>
<text transform="translate(101.80 442.20) scale(0.9091 1)" text-anchor="middle" font-size="8.36" font-weight="bold" fill="#111"  stroke="#111" stroke-width="0.15">ns</text>
<text transform="translate(89.50 519.70) scale(0.9091 1)" text-anchor="middle" font-size="8.03" font-weight="bold" fill="#111"  stroke="#111" stroke-width="0.3">0</text>
<text transform="translate(111.30 519.70) scale(0.9091 1)" text-anchor="middle" font-size="8.03" font-weight="bold" fill="#111"  stroke="#111" stroke-width="0.3">0.5</text>
<text transform="translate(134.30 519.70) scale(0.9091 1)" text-anchor="middle" font-size="8.03" font-weight="bold" fill="#111"  stroke="#111" stroke-width="0.3">2.5</text>
<text transform="translate(157.50 519.70) scale(0.9091 1)" text-anchor="middle" font-size="8.03" font-weight="bold" fill="#111"  stroke="#111" stroke-width="0.3">5</text>
<text transform="translate(71.30 519.70) scale(0.9091 1)" text-anchor="end" font-size="8.03" font-weight="bold" fill="#111"  stroke="#111" stroke-width="0.3">Citrate (mM)</text>
<text transform="translate(54.20 457.40) rotate(-90) scale(1.0000 1)" text-anchor="middle" font-size="7.86" font-weight="normal" fill="#111"  stroke="#111" stroke-width="0.2">Cytotoxicity (%)</text>
<text transform="translate(116.50 536.10) scale(0.9091 1)" text-anchor="middle" font-size="8.03" font-weight="bold" fill="#111"  stroke="#111" stroke-width="0.3">E:T = 1:1</text>
<text transform="translate(201.00 383.20) scale(1.0000 1)" text-anchor="start" font-size="11.00" font-weight="bold" fill="#111"  stroke="#111" stroke-width="0.1">j</text>
<text transform="translate(319.00 405.90) scale(0.9091 1)" text-anchor="middle" font-size="8.03" font-weight="bold" fill="#111"  stroke="#111" stroke-width="0.3">RKO</text>
<line x1="268.60" y1="411.50" x2="268.60" y2="509.10" stroke="#1f1f1f" stroke-width="1.25"/>
<line x1="264.60" y1="508.50" x2="268.60" y2="508.50" stroke="#1f1f1f" stroke-width="1.1"/>
<text transform="translate(261.00 511.10) scale(0.9091 1)" text-anchor="end" font-size="8.03" font-weight="bold" fill="#111"  stroke="#111" stroke-width="0.3">0</text>
<line x1="264.60" y1="484.30" x2="268.60" y2="484.30" stroke="#1f1f1f" stroke-width="1.1"/>
<text transform="translate(263.00 486.90) scale(0.9091 1)" text-anchor="end" font-size="8.03" font-weight="bold" fill="#111"  stroke="#111" stroke-width="0.3">20</text>
<line x1="264.60" y1="460.00" x2="268.60" y2="460.00" stroke="#1f1f1f" stroke-width="1.1"/>
<text transform="translate(263.00 462.60) scale(0.9091 1)" text-anchor="end" font-size="8.03" font-weight="bold" fill="#111"  stroke="#111" stroke-width="0.3">40</text>
<line x1="264.60" y1="435.80" x2="268.60" y2="435.80" stroke="#1f1f1f" stroke-width="1.1"/>
<text transform="translate(263.00 438.40) scale(0.9091 1)" text-anchor="end" font-size="8.03" font-weight="bold" fill="#111"  stroke="#111" stroke-width="0.3">60</text>
<line x1="264.60" y1="411.50" x2="268.60" y2="411.50" stroke="#1f1f1f" stroke-width="1.1"/>
<text transform="translate(263.00 414.10) scale(0.9091 1)" text-anchor="end" font-size="8.03" font-weight="bold" fill="#111"  stroke="#111" stroke-width="0.3">80</text>
<line x1="264.60" y1="508.50" x2="368.00" y2="508.50" stroke="#1f1f1f" stroke-width="1.25"/>
<rect x="276.40" y="476.70" width="14.70" height="31.30" fill="#FDDAB3" stroke="#F9C795" stroke-width="0.8" />
<line x1="283.75" y1="472.00" x2="283.75" y2="476.80" stroke="#1f1f1f" stroke-width="1.4"/>
<line x1="279.88" y1="472.00" x2="287.62" y2="472.00" stroke="#1f1f1f" stroke-width="1.3"/>
<line x1="283.50" y1="508.50" x2="283.50" y2="512.30" stroke="#1f1f1f" stroke-width="1.0"/>
<circle cx="283.75" cy="472.00" r="0.9" fill="#d4d4d4"/>
<circle cx="279.75" cy="478.00" r="1.0" fill="#cbcbcb"/>
<circle cx="287.75" cy="477.00" r="1.0" fill="#cbcbcb"/>
<rect x="299.40" y="466.70" width="14.50" height="41.30" fill="#D1E8D0" stroke="#B3DAB0" stroke-width="0.8" />
<line x1="306.65" y1="459.50" x2="306.65" y2="466.80" stroke="#1f1f1f" stroke-width="1.4"/>
<line x1="302.82" y1="459.50" x2="310.47" y2="459.50" stroke="#1f1f1f" stroke-width="1.3"/>
<line x1="306.50" y1="508.50" x2="306.50" y2="512.30" stroke="#1f1f1f" stroke-width="1.0"/>
<circle cx="306.65" cy="459.50" r="0.9" fill="#d4d4d4"/>
<circle cx="306.65" cy="473.00" r="1.0" fill="#cbcbcb"/>
<rect x="321.90" y="456.90" width="14.70" height="51.10" fill="#BBD7F0" stroke="#8FBBEC" stroke-width="0.8" />
<line x1="329.25" y1="454.80" x2="329.25" y2="457.00" stroke="#1f1f1f" stroke-width="1.4"/>
<line x1="325.38" y1="454.80" x2="333.12" y2="454.80" stroke="#1f1f1f" stroke-width="1.3"/>
<line x1="329.50" y1="508.50" x2="329.50" y2="512.30" stroke="#1f1f1f" stroke-width="1.0"/>
<circle cx="329.25" cy="454.80" r="0.9" fill="#d4d4d4"/>
<circle cx="326.25" cy="457.00" r="1.0" fill="#cbcbcb"/>
<circle cx="332.25" cy="457.00" r="1.0" fill="#cbcbcb"/>
<rect x="344.70" y="447.70" width="14.20" height="60.30" fill="#FDDDE0" stroke="#F6AEB6" stroke-width="0.8" />
<line x1="351.80" y1="433.80" x2="351.80" y2="447.80" stroke="#1f1f1f" stroke-width="1.4"/>
<line x1="348.05" y1="433.80" x2="355.55" y2="433.80" stroke="#1f1f1f" stroke-width="1.3"/>
<line x1="351.50" y1="508.50" x2="351.50" y2="512.30" stroke="#1f1f1f" stroke-width="1.0"/>
<circle cx="351.80" cy="433.80" r="0.9" fill="#d4d4d4"/>
<circle cx="347.80" cy="455.00" r="1.0" fill="#cbcbcb"/>
<circle cx="355.80" cy="454.00" r="1.0" fill="#cbcbcb"/>
<line x1="285.30" y1="427.50" x2="350.00" y2="427.50" stroke="#4a4a4a" stroke-width="1.0"/>
<text transform="translate(319.30 424.10) scale(1.0000 1)" text-anchor="middle" font-size="7.30" font-weight="bold" fill="#111"  stroke="#111" stroke-width="0.25">*</text>
<line x1="285.30" y1="441.50" x2="324.80" y2="441.50" stroke="#4a4a4a" stroke-width="1.0"/>
<text transform="translate(306.00 438.90) scale(1.0000 1)" text-anchor="middle" font-size="7.30" font-weight="bold" fill="#111"  stroke="#111" stroke-width="0.25">**</text>
<line x1="285.30" y1="454.50" x2="307.80" y2="454.50" stroke="#4a4a4a" stroke-width="1.0"/>
<text transform="translate(296.50 451.10) scale(0.9091 1)" text-anchor="middle" font-size="8.36" font-weight="bold" fill="#111"  stroke="#111" stroke-width="0.15">ns</text>
<text transform="translate(284.00 521.90) scale(0.9091 1)" text-anchor="middle" font-size="8.03" font-weight="bold" fill="#111"  stroke="#111" stroke-width="0.3">0</text>
<text transform="translate(306.00 521.90) scale(0.9091 1)" text-anchor="middle" font-size="8.03" font-weight="bold" fill="#111"  stroke="#111" stroke-width="0.3">0.5</text>
<text transform="translate(329.00 521.90) scale(0.9091 1)" text-anchor="middle" font-size="8.03" font-weight="bold" fill="#111"  stroke="#111" stroke-width="0.3">2.5</text>
<text transform="translate(351.80 521.90) scale(0.9091 1)" text-anchor="middle" font-size="8.03" font-weight="bold" fill="#111"  stroke="#111" stroke-width="0.3">5</text>
<text transform="translate(266.00 521.90) scale(0.9091 1)" text-anchor="end" font-size="8.03" font-weight="bold" fill="#111"  stroke="#111" stroke-width="0.3">Citrate (mM)</text>
<text transform="translate(248.20 459.80) rotate(-90) scale(1.0000 1)" text-anchor="middle" font-size="7.86" font-weight="normal" fill="#111"  stroke="#111" stroke-width="0.2">Cytotoxicity (%)</text>
<text transform="translate(313.50 536.10) scale(0.9091 1)" text-anchor="middle" font-size="8.03" font-weight="bold" fill="#111"  stroke="#111" stroke-width="0.3">E:T = 1:3</text>
<text transform="translate(-1.20 193.90) scale(1.0000 1)" text-anchor="start" font-size="11.00" font-weight="bold" fill="#111"  stroke="#111" stroke-width="0.1">e</text>
<text transform="translate(77.50 213.00) scale(0.9091 1)" text-anchor="middle" font-size="8.03" font-weight="bold" fill="#111"  stroke="#111" stroke-width="0.3">U87</text>
<text transform="translate(123.40 213.00) scale(0.9091 1)" text-anchor="middle" font-size="8.03" font-weight="bold" fill="#111"  stroke="#111" stroke-width="0.3">Activated T cells</text>
<line x1="56.00" y1="216.50" x2="94.30" y2="216.50" stroke="#333" stroke-width="1.0"/>
<line x1="98.00" y1="216.50" x2="136.30" y2="216.50" stroke="#333" stroke-width="1.0"/>
<text transform="translate(43.00 225.40) scale(0.9091 1)" text-anchor="middle" font-size="8.03" font-weight="bold" fill="#111"  stroke="#111" stroke-width="0.3">IP</text>
<text transform="translate(64.20 225.40) scale(0.9091 1)" text-anchor="middle" font-size="8.03" font-weight="bold" fill="#111"  stroke="#111" stroke-width="0.3">IgG</text>
<text transform="translate(88.20 225.40) scale(0.9091 1)" text-anchor="middle" font-size="8.03" font-weight="bold" fill="#111"  stroke="#111" stroke-width="0.3">H3</text>
<text transform="translate(108.60 225.40) scale(0.9091 1)" text-anchor="middle" font-size="8.03" font-weight="bold" fill="#111"  stroke="#111" stroke-width="0.3">IgG</text>
<text transform="translate(130.80 225.40) scale(0.9091 1)" text-anchor="middle" font-size="8.03" font-weight="bold" fill="#111"  stroke="#111" stroke-width="0.3">H3</text>
<text transform="translate(143.60 225.40) scale(0.9091 1)" text-anchor="start" font-size="8.03" font-weight="bold" fill="#111"  stroke="#111" stroke-width="0.3">kDa</text>
<rect x="53.40" y="228.40" width="87.60" height="16.50" fill="#f2f2f2" />
<rect x="79.30" y="235.10" width="17.90" height="3.60" rx="1.80" fill="#0a0a0a" filter="url(#bl)"/>
<rect x="121.00" y="235.50" width="17.20" height="2.60" rx="1.30" fill="#858585" filter="url(#bl)"/>
<text transform="translate(99.40 254.20) scale(0.9091 1)" text-anchor="middle" font-size="8.03" font-weight="bold" fill="#111"  stroke="#111" stroke-width="0.3">IB: PFKM</text>
<line x1="141.30" y1="243.50" x2="143.10" y2="243.50" stroke="#111" stroke-width="1.0"/>
<text transform="translate(144.70 245.80) scale(0.9091 1)" text-anchor="start" font-size="8.03" font-weight="normal" fill="#111"  stroke="#111" stroke-width="0.1">70</text>
<rect x="53.4" y="257.00" width="87.6" height="16.40" fill="url(#g2)"/>
<rect x="78.70" y="264.50" width="16.70" height="2.60" rx="1.30" fill="#1a1a1a" filter="url(#bl)"/>
<rect x="119.90" y="263.30" width="16.40" height="4.40" rx="2.20" fill="#050505" filter="url(#bl)"/>
<text transform="translate(98.80 281.60) scale(0.9091 1)" text-anchor="middle" font-size="8.03" font-weight="bold" fill="#111"  stroke="#111" stroke-width="0.3">IB: H3</text>
<line x1="141.30" y1="268.50" x2="143.10" y2="268.50" stroke="#111" stroke-width="1.0"/>
<text transform="translate(144.70 271.40) scale(0.9091 1)" text-anchor="start" font-size="8.03" font-weight="normal" fill="#111"  stroke="#111" stroke-width="0.1">15</text>
<rect x="53.4" y="284.50" width="87.6" height="16.40" fill="url(#g3)"/>
<rect x="56.40" y="292.10" width="17.70" height="3.80" rx="1.90" fill="#080808" filter="url(#bl)"/>
<rect x="77.30" y="292.10" width="16.90" height="3.80" rx="1.90" fill="#080808" filter="url(#bl)"/>
<rect x="98.20" y="293.00" width="17.30" height="2.20" rx="1.10" fill="#8e8e8e" filter="url(#bl)"/>
<rect x="120.70" y="292.60" width="17.60" height="2.40" rx="1.20" fill="#6a6a6a" filter="url(#bl)"/>
<text transform="translate(96.90 310.70) scale(0.9091 1)" text-anchor="middle" font-size="8.03" font-weight="bold" fill="#111"  stroke="#111" stroke-width="0.3">IB: PFKM</text>
<line x1="141.30" y1="299.50" x2="143.10" y2="299.50" stroke="#111" stroke-width="1.0"/>
<text transform="translate(144.70 301.90) scale(0.9091 1)" text-anchor="start" font-size="8.03" font-weight="normal" fill="#111"  stroke="#111" stroke-width="0.1">70</text>
<rect x="53.40" y="312.90" width="87.60" height="16.10" fill="#d8d8d8" />
<rect x="56.40" y="320.95" width="17.70" height="2.30" rx="1.15" fill="#4a4a4a" filter="url(#bl)"/>
<rect x="78.10" y="321.40" width="16.10" height="2.20" rx="1.10" fill="#5e5e5e" filter="url(#bl)"/>
<rect x="98.20" y="319.90" width="18.40" height="3.80" rx="1.90" fill="#0e0e0e" filter="url(#bl)"/>
<rect x="119.00" y="319.90" width="19.80" height="5.20" rx="2.50" fill="#030303" filter="url(#bl)"/>
<text transform="translate(96.80 337.60) scale(0.9091 1)" text-anchor="middle" font-size="8.03" font-weight="bold" fill="#111"  stroke="#111" stroke-width="0.3">IB: H3</text>
<line x1="141.30" y1="325.50" x2="143.10" y2="325.50" stroke="#111" stroke-width="1.0"/>
<text transform="translate(144.70 328.40) scale(0.9091 1)" text-anchor="start" font-size="8.03" font-weight="normal" fill="#111"  stroke="#111" stroke-width="0.1">15</text>
<rect x="53.40" y="340.30" width="87.60" height="16.80" fill="#e0e0e0" />
<rect x="56.10" y="347.60" width="18.50" height="3.00" rx="1.50" fill="#111" filter="url(#bl)"/>
<rect x="78.10" y="347.70" width="17.20" height="2.80" rx="1.40" fill="#141414" filter="url(#bl)"/>
<rect x="99.00" y="347.20" width="17.60" height="3.80" rx="1.90" fill="#060606" filter="url(#bl)"/>
<rect x="120.70" y="347.30" width="17.60" height="3.60" rx="1.80" fill="#080808" filter="url(#bl)"/>
<text transform="translate(97.80 365.70) scale(0.9091 1)" text-anchor="middle" font-size="8.03" font-weight="bold" fill="#111"  stroke="#111" stroke-width="0.3">IB: Tubulin</text>
<line x1="141.30" y1="347.50" x2="143.10" y2="347.50" stroke="#111" stroke-width="1.0"/>
<text transform="translate(145.80 349.60) scale(0.9091 1)" text-anchor="start" font-size="8.03" font-weight="normal" fill="#111"  stroke="#111" stroke-width="0.1">55</text>
<line x1="49.50" y1="230.00" x2="49.50" y2="273.50" stroke="#1f1f1f" stroke-width="1.0"/>
<line x1="49.50" y1="285.00" x2="49.50" y2="357.20" stroke="#1f1f1f" stroke-width="1.0"/>
<text transform="translate(44.80 251.00) rotate(-90) scale(0.9091 1)" text-anchor="middle" font-size="8.03" font-weight="bold" fill="#111"  stroke="#111" stroke-width="0.3">IP</text>
<text transform="translate(44.80 323.60) rotate(-90) scale(0.9091 1)" text-anchor="middle" font-size="8.03" font-weight="bold" fill="#111"  stroke="#111" stroke-width="0.3">Input</text>
</svg></body></html>
